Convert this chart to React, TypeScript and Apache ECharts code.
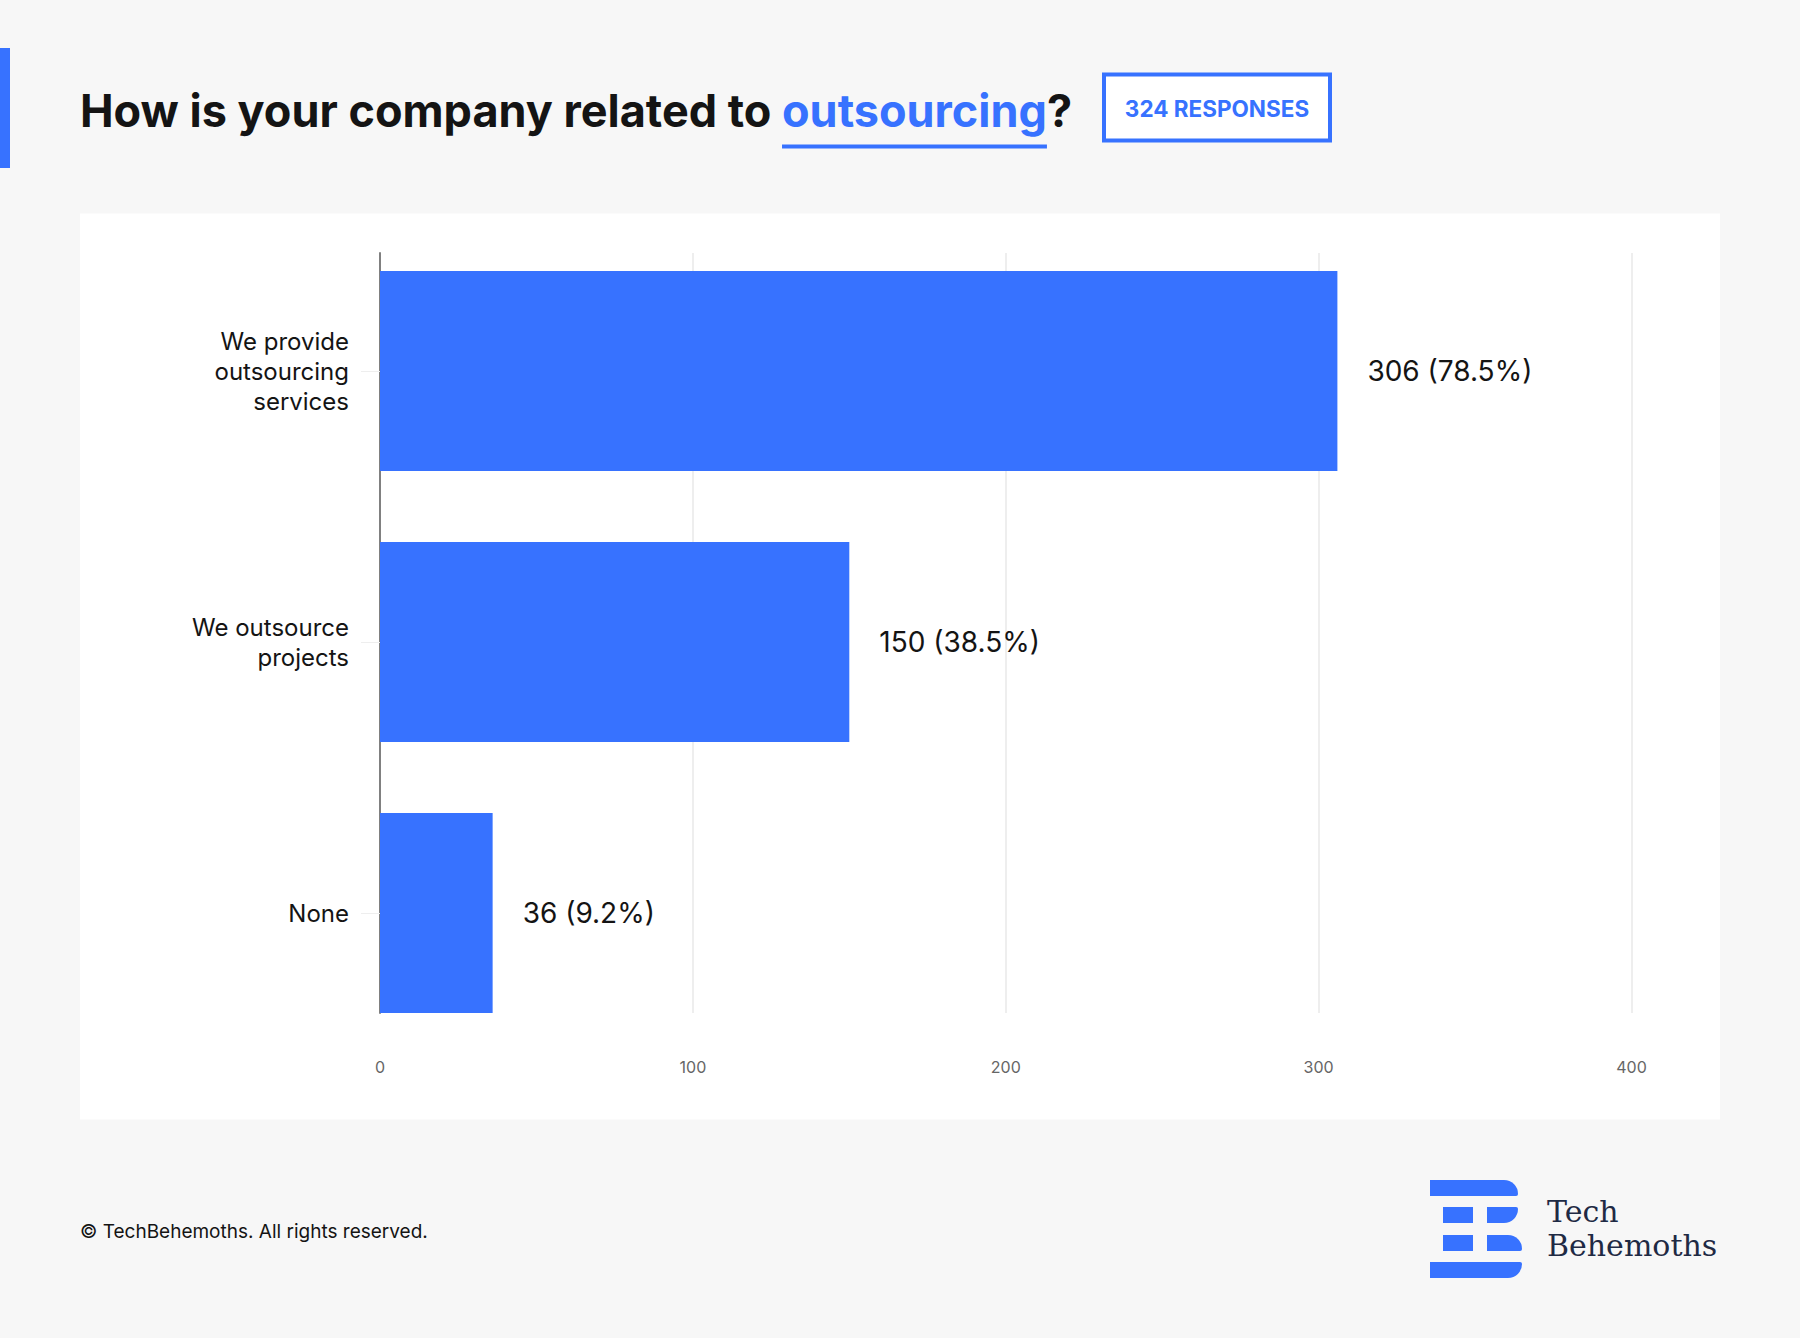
import React, { useEffect, useRef } from "react";
import * as echarts from "echarts";

// ---- data ----
const categories = ["We provide\noutsourcing\nservices", "We outsource\nprojects", "None"];
const counts = [306, 150, 36];
const shares = [78.5, 38.5, 9.2];
const axisMin = 0;
const axisMax = 400;
const axisInterval = 100;

const titlePrefix = "How is your company related to ";
const titleWord = "outsourcing";
const titleSuffix = "?";
const badgeText = "324 RESPONSES";
const footerText = "© TechBehemoths. All rights reserved.";
const logoLines = ["Tech", "Behemoths"];

const BLUE = "#3772ff";
const INK = "#141414";
const FONT = "Inter, 'Noto Sans', sans-serif";
const TITLE_SIZE = 45;

export default function App() {
  const ref = useRef<HTMLDivElement>(null);

  useEffect(() => {
    document.body.style.margin = "0";
    const chart = echarts.init(ref.current!, null, { renderer: "svg" });

    const ctx = document.createElement("canvas").getContext("2d")!;
    ctx.font = `700 ${TITLE_SIZE}px Inter`;
    const w1 = ctx.measureText(titlePrefix).width;
    const w2 = ctx.measureText(titleWord).width;
    const tx = 80;
    const ty = 110;

    const titleFont = `700 ${TITLE_SIZE}px ${FONT}`;

    chart.setOption({
      animation: false,
      backgroundColor: "#f7f7f7",
      graphic: [
        { type: "rect", z: -10, shape: { x: 80, y: 213.5, width: 1640, height: 906 }, style: { fill: "#ffffff" } },
        { type: "rect", shape: { x: 0, y: 48, width: 10, height: 120 }, style: { fill: BLUE } },
        { type: "text", style: { x: tx, y: ty, text: titlePrefix, font: titleFont, fill: INK, verticalAlign: "middle" } },
        { type: "text", style: { x: tx + w1, y: ty, text: titleWord, font: titleFont, fill: BLUE, verticalAlign: "middle" } },
        { type: "text", style: { x: tx + w1 + w2, y: ty, text: titleSuffix, font: titleFont, fill: INK, verticalAlign: "middle" } },
        { type: "rect", shape: { x: tx + w1, y: 144.5, width: w2, height: 4 }, style: { fill: BLUE } },
        { type: "rect", shape: { x: 1104, y: 74.5, width: 226, height: 66 }, style: { fill: "#ffffff", stroke: BLUE, lineWidth: 4 } },
        { type: "text", style: { x: 1217, y: 108, text: badgeText, font: `700 22.5px ${FONT}`, fill: BLUE, align: "center", verticalAlign: "middle" } },
        { type: "text", style: { x: 80, y: 1231, text: footerText, font: `400 19px ${FONT}`, fill: INK, verticalAlign: "middle" } },
        { type: "text", style: { x: 1547, y: 1211, text: logoLines[0], font: `400 30px 'DejaVu Serif', serif`, fill: "#1f2a44", verticalAlign: "middle" } },
        { type: "text", style: { x: 1547, y: 1245, text: logoLines[1], font: `400 30px 'DejaVu Serif', serif`, fill: "#1f2a44", verticalAlign: "middle" } },
        // logo mark
        { type: "rect", shape: { x: 1430, y: 1180, width: 88, height: 16, r: [0, 14, 2, 0] }, style: { fill: BLUE } },
        { type: "rect", shape: { x: 1443, y: 1207, width: 30, height: 16 }, style: { fill: BLUE } },
        { type: "rect", shape: { x: 1487, y: 1207, width: 31, height: 16, r: [0, 2, 14, 0] }, style: { fill: BLUE } },
        { type: "rect", shape: { x: 1443, y: 1235, width: 30, height: 16 }, style: { fill: BLUE } },
        { type: "rect", shape: { x: 1487, y: 1235, width: 35, height: 16, r: [0, 14, 2, 0] }, style: { fill: BLUE } },
        { type: "rect", shape: { x: 1430, y: 1262, width: 92, height: 16, r: [0, 2, 14, 0] }, style: { fill: BLUE } },
      ],
      grid: [
        { left: 380, right: 168.5, top: 235.5, height: 813 },
        { left: 380, right: 168.5, top: 253, height: 760 },
      ],
      xAxis: [
        {
          gridIndex: 0,
          type: "value",
          min: axisMin,
          max: axisMax,
          interval: axisInterval,
          axisLine: { show: false },
          axisTick: { show: false },
          splitLine: { show: false },
          axisLabel: { fontSize: 16, color: "#666666", margin: 10, fontFamily: FONT },
        },
        {
          gridIndex: 1,
          type: "value",
          min: axisMin,
          max: axisMax,
          interval: axisInterval,
          axisLine: { show: false },
          axisTick: { show: false },
          axisLabel: { show: false },
          splitLine: { show: true, lineStyle: { color: "#eeeeee", width: 2 } },
        },
      ],
      yAxis: [
        {
          gridIndex: 0,
          type: "category",
          inverse: true,
          data: categories,
          axisLine: { show: false },
          axisTick: { show: true, alignWithLabel: true, length: 19, lineStyle: { color: "#eeeeee", width: 1 } },
          splitLine: { show: false },
          axisLabel: { margin: 31, fontSize: 24, lineHeight: 30, color: INK, fontFamily: FONT, align: "right" },
        },
        {
          gridIndex: 1,
          type: "value",
          min: 0,
          max: 1,
          axisLine: { show: true, lineStyle: { color: "#808080", width: 2 } },
          axisTick: { show: false },
          axisLabel: { show: false },
          splitLine: { show: false },
        },
      ],
      series: [
        {
          type: "bar",
          xAxisIndex: 0,
          yAxisIndex: 0,
          data: counts,
          barWidth: 200,
          itemStyle: { color: BLUE },
          label: {
            show: true,
            position: "right",
            distance: 30,
            fontSize: 28,
            color: INK,
            fontFamily: FONT,
            formatter: (p: any) => `${counts[p.dataIndex]} (${shares[p.dataIndex]}%)`,
          },
        },
      ],
    });

    return () => chart.dispose();
  }, []);

  return <div ref={ref} style={{ width: 1800, height: 1338 }} />;
}
